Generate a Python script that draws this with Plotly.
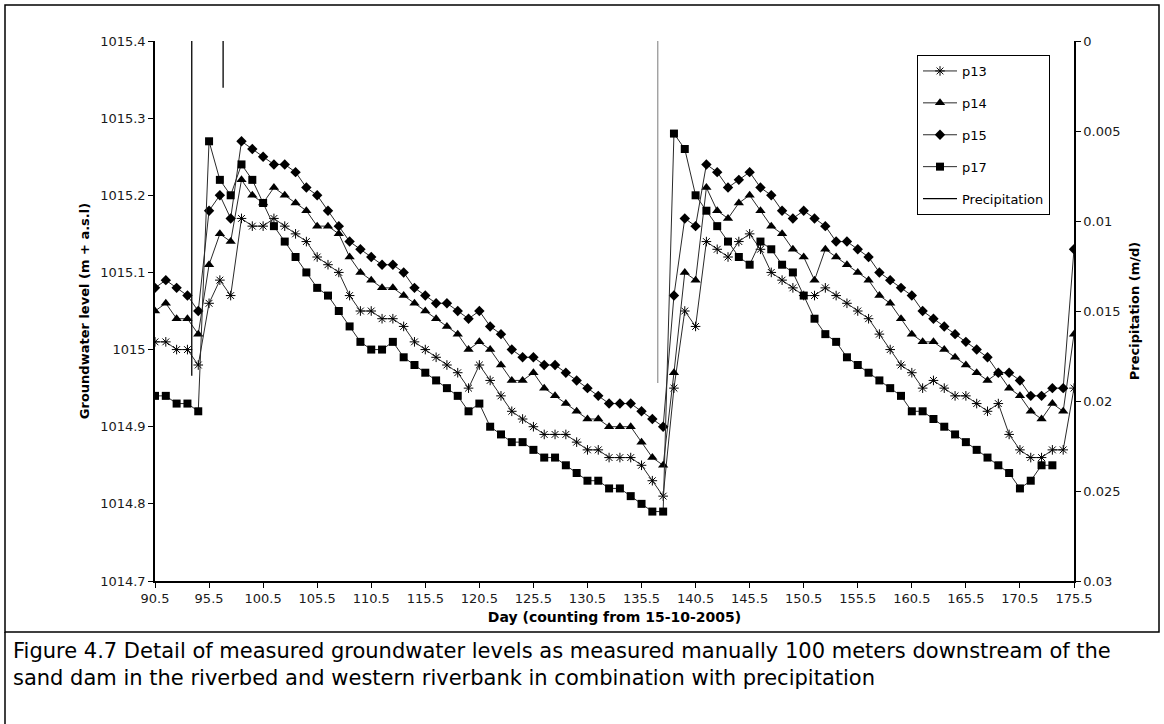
import plotly.graph_objects as go

# Day numbers (counting from 15-10-2005), one manual reading per day
days = [90.5 + i for i in range(86)]

# Groundwater levels (m + a.s.l) per piezometer
p13 = [1015.01, 1015.01, 1015.00, 1015.00, 1014.98, 1015.06, 1015.09, 1015.07, 1015.17, 1015.16,
       1015.16, 1015.17, 1015.16, 1015.15, 1015.14, 1015.12, 1015.11, 1015.10, 1015.07, 1015.05,
       1015.05, 1015.04, 1015.04, 1015.03, 1015.01, 1015.00, 1014.99, 1014.98, 1014.97, 1014.95,
       1014.98, 1014.96, 1014.94, 1014.92, 1014.91, 1014.90, 1014.89, 1014.89, 1014.89, 1014.88,
       1014.87, 1014.87, 1014.86, 1014.86, 1014.86, 1014.85, 1014.83, 1014.81, 1014.95, 1015.05,
       1015.03, 1015.14, 1015.13, 1015.12, 1015.14, 1015.15, 1015.13, 1015.10, 1015.09, 1015.08,
       1015.07, 1015.07, 1015.08, 1015.07, 1015.06, 1015.05, 1015.04, 1015.02, 1015.00, 1014.98,
       1014.97, 1014.95, 1014.96, 1014.95, 1014.94, 1014.94, 1014.93, 1014.92, 1014.93, 1014.89,
       1014.87, 1014.86, 1014.86, 1014.87, 1014.87, 1014.95]

p14 = [1015.05, 1015.06, 1015.04, 1015.04, 1015.02, 1015.11, 1015.15, 1015.14, 1015.22, 1015.20,
       1015.19, 1015.21, 1015.20, 1015.19, 1015.18, 1015.16, 1015.16, 1015.15, 1015.12, 1015.10,
       1015.09, 1015.08, 1015.08, 1015.07, 1015.06, 1015.05, 1015.04, 1015.03, 1015.02, 1015.00,
       1015.01, 1015.00, 1014.98, 1014.96, 1014.96, 1014.97, 1014.95, 1014.94, 1014.93, 1014.92,
       1014.91, 1014.91, 1014.90, 1014.90, 1014.90, 1014.88, 1014.86, 1014.85, 1014.97, 1015.10,
       1015.09, 1015.21, 1015.18, 1015.17, 1015.19, 1015.20, 1015.18, 1015.16, 1015.15, 1015.13,
       1015.12, 1015.09, 1015.13, 1015.12, 1015.11, 1015.10, 1015.09, 1015.07, 1015.06, 1015.04,
       1015.02, 1015.01, 1015.01, 1015.00, 1014.99, 1014.98, 1014.97, 1014.96, 1014.97, 1014.95,
       1014.94, 1014.92, 1014.91, 1014.93, 1014.92, 1015.02]

p15 = [1015.08, 1015.09, 1015.08, 1015.07, 1015.05, 1015.18, 1015.20, 1015.17, 1015.27, 1015.26,
       1015.25, 1015.24, 1015.24, 1015.23, 1015.21, 1015.20, 1015.18, 1015.16, 1015.14, 1015.13,
       1015.12, 1015.11, 1015.11, 1015.10, 1015.08, 1015.07, 1015.06, 1015.06, 1015.05, 1015.04,
       1015.05, 1015.03, 1015.02, 1015.00, 1014.99, 1014.99, 1014.98, 1014.98, 1014.97, 1014.96,
       1014.95, 1014.94, 1014.93, 1014.93, 1014.93, 1014.92, 1014.91, 1014.90, 1015.07, 1015.17,
       1015.16, 1015.24, 1015.23, 1015.21, 1015.22, 1015.23, 1015.21, 1015.20, 1015.18, 1015.17,
       1015.18, 1015.17, 1015.16, 1015.14, 1015.14, 1015.13, 1015.12, 1015.10, 1015.09, 1015.08,
       1015.07, 1015.05, 1015.04, 1015.03, 1015.02, 1015.01, 1015.00, 1014.99, 1014.97, 1014.97,
       1014.96, 1014.94, 1014.94, 1014.95, 1014.95, 1015.13]

p17 = [1014.94, 1014.94, 1014.93, 1014.93, 1014.92, 1015.27, 1015.22, 1015.20, 1015.24, 1015.22,
       1015.19, 1015.16, 1015.14, 1015.12, 1015.10, 1015.08, 1015.07, 1015.05, 1015.03, 1015.01,
       1015.00, 1015.00, 1015.01, 1014.99, 1014.98, 1014.97, 1014.96, 1014.95, 1014.94, 1014.92,
       1014.93, 1014.90, 1014.89, 1014.88, 1014.88, 1014.87, 1014.86, 1014.86, 1014.85, 1014.84,
       1014.83, 1014.83, 1014.82, 1014.82, 1014.81, 1014.80, 1014.79, 1014.79, 1015.28, 1015.26,
       1015.20, 1015.18, 1015.16, 1015.14, 1015.12, 1015.11, 1015.14, 1015.13, 1015.11, 1015.10,
       1015.07, 1015.04, 1015.02, 1015.01, 1014.99, 1014.98, 1014.97, 1014.96, 1014.95, 1014.94,
       1014.92, 1014.92, 1014.91, 1014.90, 1014.89, 1014.88, 1014.87, 1014.86, 1014.85, 1014.84,
       1014.82, 1014.83, 1014.85, 1014.85, None, None]

# Precipitation events (m/d), drawn downward from the top of the inverted axis
rain_days = [93.9, 96.8]
rain_depth = [0.0186, 0.0026]
late_rain_days = [137.0]
late_rain_depth = [0.0190]

x_ticks = [90.5 + 5 * k for k in range(18)]
left_ticks = [1014.7, 1014.8, 1014.9, 1015.0, 1015.1, 1015.2, 1015.3, 1015.4]
left_labels = ["1014.7", "1014.8", "1014.9", "1015", "1015.1", "1015.2", "1015.3", "1015.4"]
right_ticks = [0, 0.005, 0.01, 0.015, 0.02, 0.025, 0.03]
right_labels = ["0", "0.005", "0.01", "0.015", "0.02", "0.025", "0.03"]

W, H = 1164, 724
L, R, T, B = 155, 90, 41, 143
PW, PH = W - L - R, H - T - B

LINE = "#2a2a2a"
FONT = "DejaVu Sans, Liberation Sans, sans-serif"
TICKC = "#1a1a1a"


def stems(xs, vs):
    sx, sy = [], []
    for d, v in zip(xs, vs):
        sx += [d, d, None]
        sy += [0, v, None]
    return sx, sy


fig = go.Figure()

series = [
    ("p13", p13, dict(symbol="asterisk-open", size=8, color="black", line=dict(width=1, color="black"))),
    ("p14", p14, dict(symbol="triangle-up", size=9, color="black")),
    ("p15", p15, dict(symbol="diamond", size=8, color="black")),
    ("p17", p17, dict(symbol="square", size=8, color="black")),
]
for name, vals, mk in series:
    fig.add_trace(go.Scatter(
        x=days, y=vals, name=name, mode="lines+markers",
        line=dict(color=LINE, width=1), marker=mk,
        legendgroup=name, connectgaps=False,
    ))

rx, ry = stems(rain_days, rain_depth)
fig.add_trace(go.Scatter(
    x=rx, y=ry, yaxis="y2", name="Precipitation", mode="lines",
    line=dict(color="black", width=1.3), legendgroup="rain",
))
lx, ly = stems(late_rain_days, late_rain_depth)
fig.add_trace(go.Scatter(
    x=lx, y=ly, yaxis="y2", name="Precipitation", mode="lines",
    line=dict(color="#9a9a9a", width=1.3), legendgroup="rain", showlegend=False,
))


# page frame around chart and caption (pixel positions converted to paper units)
def px_x(p):
    return (p - L) / PW


def px_y(p):
    return 1 - (p - T) / PH


fig.add_shape(type="rect", xref="paper", yref="paper",
              x0=px_x(5), x1=px_x(1159), y0=px_y(5), y1=px_y(632),
              line=dict(color="black", width=1.5))
fig.add_shape(type="line", xref="paper", yref="paper",
              x0=px_x(5), x1=px_x(5), y0=px_y(632), y1=px_y(724),
              line=dict(color="black", width=1.5))

fig.add_annotation(
    xref="paper", yref="paper", x=px_x(11), y=px_y(637), xanchor="left", yanchor="top",
    align="left", showarrow=False,
    text="Figure 4.7 Detail of measured groundwater levels as measured manually 100 meters downstream of the<br>"
         "sand dam in the riverbed and western riverbank in combination with precipitation",
    font=dict(family=FONT, size=21, color="black"),
)

axis_common = dict(showgrid=False, zeroline=False, showline=True, linecolor="black", linewidth=1.5,
                   ticks="outside", ticklen=5, tickcolor="black", tickwidth=1)

fig.update_layout(
    width=W, height=H,
    margin=dict(l=L, r=R, t=T, b=B),
    paper_bgcolor="white", plot_bgcolor="white",
    font=dict(family=FONT, color="black", size=12),
    showlegend=True,
    legend=dict(
        x=px_x(917), y=px_y(55), xanchor="left", yanchor="top",
        bordercolor="black", borderwidth=1, bgcolor="white",
        font=dict(family=FONT, size=13), tracegroupgap=12,
        itemwidth=34,
    ),
    xaxis=dict(
        range=[90.5, 175.5], tickvals=x_ticks, ticktext=[f"{t:.1f}" for t in x_ticks],
        tickfont=dict(family=FONT, size=13, color=TICKC),
        title=dict(text="<b>Day (counting from 15-10-2005)</b>", standoff=7,
                   font=dict(family=FONT, size=14)),
        **axis_common,
    ),
    yaxis=dict(
        range=[1014.7, 1015.4], tickvals=left_ticks, ticktext=left_labels,
        tickfont=dict(family=FONT, size=13, color=TICKC),
        title=dict(text="<b>Groundwater level (m + a.s.l)</b>", standoff=8,
                   font=dict(family=FONT, size=13)),
        **axis_common,
    ),
    yaxis2=dict(
        overlaying="y", side="right", range=[0.03, 0],
        tickvals=right_ticks, ticktext=right_labels,
        tickfont=dict(family=FONT, size=13, color=TICKC),
        title=dict(text="<b>Precipitation (m/d)</b>", standoff=10,
                   font=dict(family=FONT, size=13)),
        **axis_common,
    ),
    # inner half of the crossing tick marks on the precipitation axis
    yaxis3=dict(
        overlaying="y", side="right", range=[0.03, 0], tickvals=right_ticks,
        showticklabels=False, showgrid=False, zeroline=False, showline=False,
        ticks="inside", ticklen=5, tickcolor="black", tickwidth=1,
    ),
)

fig.write_html("out.html")
